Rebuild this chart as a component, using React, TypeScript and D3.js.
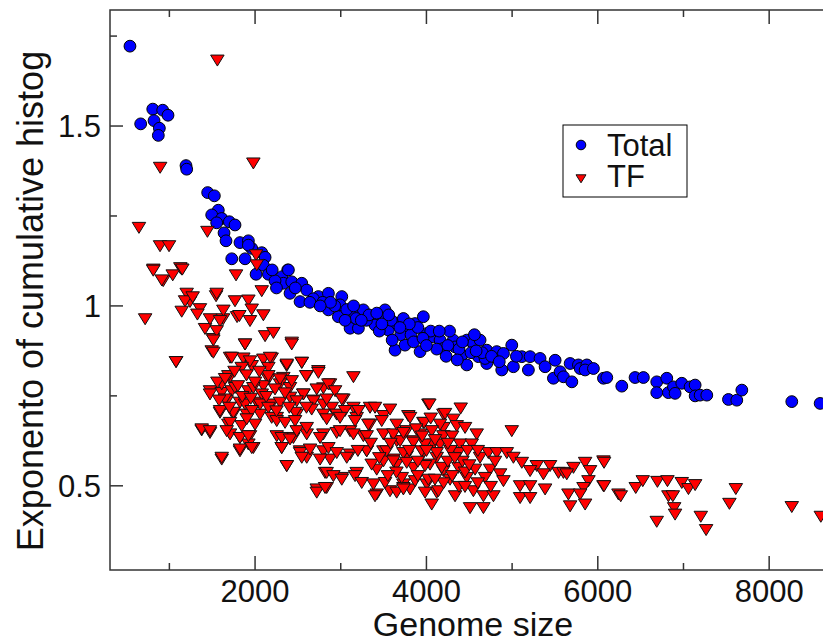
import React from "react";
import * as d3 from "d3";

const totalPoints: [number, number][] = [
  [540, 1.722], [806, 1.547], [922, 1.544], [984, 1.53], [665, 1.506], [821, 1.515], [883, 1.494], [871, 1.474],
  [1194, 1.39], [1202, 1.38], [1447, 1.315], [1525, 1.306], [1571, 1.266], [1494, 1.253], [1611, 1.243], [1552, 1.231],
  [1700, 1.234], [1766, 1.225], [1638, 1.203], [1661, 1.181], [1824, 1.176], [1922, 1.181], [1961, 1.16], [2078, 1.148],
  [2117, 1.135], [1728, 1.131], [1883, 1.131], [2097, 1.113], [2381, 1.1], [1922, 1.169], [2012, 1.088], [2156, 1.088],
  [2311, 1.081], [2389, 1.1], [2331, 1.063], [2428, 1.067], [2408, 1.035], [2545, 1.063], [2525, 1.012], [2603, 1.044],
  [2739, 1.026], [2856, 1.035], [2856, 0.989], [3012, 1.026], [2992, 1.003], [2972, 0.97], [3148, 0.984], [3264, 0.989],
  [3109, 0.938], [3206, 0.938], [3342, 0.961], [3400, 0.947], [3517, 0.989], [3498, 0.965], [3556, 0.933], [3653, 0.951],
  [3731, 0.965], [3770, 0.933], [3634, 0.877], [3750, 0.891], [3867, 0.951], [3964, 0.97], [3926, 0.873], [4004, 0.923],
  [4081, 0.914], [4159, 0.905], [4198, 0.882], [4314, 0.905], [4334, 0.886], [4412, 0.863], [4471, 0.905], [4548, 0.896],
  [4606, 0.859], [4471, 0.836], [4704, 0.877], [4704, 0.84], [4626, 0.905], [4821, 0.873], [4996, 0.891], [4899, 0.868],
  [4684, 0.854], [4879, 0.822], [5015, 0.831], [5113, 0.859], [5210, 0.859], [5190, 0.822], [5326, 0.854], [5385, 0.831],
  [5502, 0.849], [5482, 0.799], [5560, 0.817], [5599, 0.803], [5677, 0.84], [5697, 0.789], [5774, 0.836], [5794, 0.826],
  [5872, 0.836], [5852, 0.822], [5949, 0.826], [6066, 0.799], [6105, 0.801], [6280, 0.777], [6435, 0.801], [6532, 0.801],
  [6688, 0.789], [6805, 0.799], [6688, 0.759], [6824, 0.759], [6883, 0.775], [6902, 0.757], [6980, 0.785], [7077, 0.775],
  [7136, 0.78], [7136, 0.75], [7194, 0.752], [7272, 0.752], [7525, 0.74], [7622, 0.738], [7681, 0.766], [8264, 0.734],
  [8595, 0.729], [2233, 1.07], [2470, 1.05], [2680, 1.02], [2790, 1.01], [2930, 1.0], [3070, 0.99], [3180, 0.965],
  [3300, 0.96], [3450, 0.93], [3590, 0.96], [3700, 0.92], [3820, 0.92], [3900, 0.94], [4050, 0.93], [4120, 0.88],
  [4250, 0.89], [4380, 0.88], [4520, 0.87], [4650, 0.87], [4760, 0.86], [2640, 1.01], [2880, 1.01], [3330, 0.975],
  [3600, 0.905], [3850, 0.9], [4270, 0.93], [4560, 0.92], [2200, 1.1], [2250, 1.05], [3050, 0.96], [3420, 0.98],
  [3480, 0.95], [3560, 0.975], [3800, 0.95], [3960, 0.91], [4150, 0.93], [4420, 0.9], [4580, 0.875], [3150, 1.0],
  [2760, 1.0], [3240, 0.96], [3690, 0.94], [4000, 0.89], [4230, 0.86], [4360, 0.85], [4850, 0.845], [5050, 0.86]
];

const tfPoints: [number, number][] = [
  [1560, 1.685], [892, 1.387], [1980, 1.399], [645, 1.22], [1444, 1.209], [891, 1.169], [996, 1.169], [813, 1.104],
  [1144, 1.104], [2012, 1.144], [717, 0.966], [1079, 0.847], [1128, 1.108], [928, 1.072], [1241, 1.014], [1357, 0.994],
  [1416, 0.939], [1474, 0.966], [1509, 0.911], [1627, 0.966], [1790, 0.972], [1545, 1.03],
  [812, 1.101], [911, 1.074], [1039, 1.088], [1151, 1.104], [1778, 1.088], [2020, 1.116], [2078, 1.044], [1202, 1.037],
  [1183, 1.016], [1272, 1.027], [1144, 0.987], [1327, 0.979], [1552, 1.037], [1766, 1.016], [1922, 1.018], [1630, 0.99],
  [1591, 0.961], [1817, 0.975], [1961, 0.993], [1941, 0.961], [2097, 0.977], [1552, 0.933], [1513, 0.907], [2117, 0.919],
  [2214, 0.928], [1883, 0.896], [1494, 0.877], [1077, 0.847], [2428, 0.901], [1708, 0.859], [1863, 0.857], [1961, 0.836],
  [2097, 0.854], [2194, 0.857], [2155, 0.831], [2369, 0.836], [2545, 0.845], [2739, 0.822], [3148, 0.805], [1708, 0.805],
  [2330, 0.803], [2603, 0.808], [2155, 0.799], [2875, 0.785], [2797, 0.774], [1474, 0.766], [1611, 0.761], [1728, 0.766],
  [1922, 0.766], [2097, 0.78], [2292, 0.785], [2408, 0.775], [2564, 0.757], [3031, 0.743], [1669, 0.738], [1824, 0.734],
  [2020, 0.734], [2194, 0.729], [2408, 0.748], [2681, 0.74], [2797, 0.729], [2895, 0.72], [3148, 0.72], [3342, 0.72],
  [3498, 0.697], [3575, 0.715], [3789, 0.697], [4023, 0.729], [4198, 0.701], [3964, 0.678], [1591, 0.706], [1747, 0.701],
  [1903, 0.701], [2058, 0.701], [2253, 0.692], [2486, 0.701], [2797, 0.701], [2953, 0.701], [3186, 0.692], [1377, 0.657],
  [1474, 0.65], [1688, 0.673], [1844, 0.669], [2000, 0.673], [1708, 0.646], [1824, 0.636], [1941, 0.641], [1922, 0.618],
  [1980, 0.608], [2253, 0.641], [2311, 0.608], [2447, 0.636], [2603, 0.646], [2797, 0.646], [2953, 0.65], [3109, 0.655],
  [3342, 0.673], [3264, 0.641], [3498, 0.646], [3731, 0.65], [3653, 0.627], [3848, 0.627], [4081, 0.618], [4198, 0.664],
  [1824, 0.599], [1611, 0.576], [2369, 0.558], [2525, 0.599], [2797, 0.599], [2603, 0.581], [2875, 0.576], [3109, 0.59],
  [3303, 0.599], [3498, 0.599], [3614, 0.576], [3770, 0.585], [3964, 0.594], [4120, 0.581], [2817, 0.539], [3012, 0.525],
  [3186, 0.539], [3420, 0.548], [3653, 0.562], [3848, 0.553], [4042, 0.562], [4198, 0.544], [2720, 0.493], [2836, 0.497],
  [3420, 0.479], [3575, 0.488], [3809, 0.493], [4120, 0.484], [4004, 0.507], [3731, 0.507],
  [1513, 0.873], [1883, 0.896], [2428, 0.896], [1728, 0.859], [1941, 0.849], [2175, 0.859], [2370, 0.84], [2545, 0.845],
  [2739, 0.817], [2596, 0.808], [1688, 0.808], [1844, 0.831], [2155, 0.808], [2292, 0.799], [2428, 0.794], [1611, 0.785],
  [1766, 0.775], [1980, 0.775], [2078, 0.757], [2233, 0.771], [2564, 0.757], [2720, 0.771], [2856, 0.785], [2934, 0.766],
  [1474, 0.757], [1649, 0.743], [1883, 0.729], [2058, 0.729], [2292, 0.734], [2486, 0.738], [2681, 0.738], [2836, 0.743],
  [3012, 0.743], [1591, 0.711], [1747, 0.706], [1961, 0.711], [2155, 0.72], [2194, 0.692], [2467, 0.706], [2661, 0.715],
  [3050, 0.711], [3206, 0.711], [3400, 0.72], [1708, 0.678], [1903, 0.688], [2253, 0.683], [2350, 0.678], [2467, 0.683],
  [2836, 0.688], [2992, 0.692], [3167, 0.683], [3322, 0.673], [3478, 0.683], [1377, 0.66], [1474, 0.655], [1669, 0.655],
  [1824, 0.636], [1922, 0.641], [2311, 0.636], [2408, 0.632], [2486, 0.655], [2603, 0.664], [2759, 0.636], [2992, 0.655],
  [3148, 0.646], [3303, 0.641], [1824, 0.604], [1961, 0.608], [2311, 0.608], [2525, 0.594], [2642, 0.604], [2759, 0.576],
  [2856, 0.608], [2953, 0.594], [3070, 0.581], [1611, 0.581], [2370, 0.558], [2545, 0.581], [2836, 0.539], [2914, 0.53],
  [3012, 0.52], [3167, 0.53], [3245, 0.511], [3381, 0.507], [2720, 0.484], [2817, 0.497], [3400, 0.474], [3517, 0.511],
  [3653, 0.484], [3731, 0.497], [3361, 0.562], [3498, 0.571], [3614, 0.571], [3303, 0.599], [3536, 0.599], [3692, 0.627],
  [3614, 0.646], [3770, 0.655], [3653, 0.673],
  [4034, 0.729], [4400, 0.718], [3809, 0.692], [3973, 0.678], [4217, 0.703], [4314, 0.687], [4159, 0.673], [4354, 0.669],
  [4451, 0.664], [4587, 0.646], [4996, 0.655], [3731, 0.65], [3926, 0.646], [4062, 0.655], [4198, 0.641], [3848, 0.623],
  [3984, 0.618], [4159, 0.618], [4393, 0.618], [4529, 0.618], [3731, 0.594], [3945, 0.599], [4120, 0.594], [4373, 0.594],
  [4626, 0.581], [4723, 0.594], [4821, 0.594], [4938, 0.594], [5015, 0.581], [5113, 0.567], [5288, 0.558], [5443, 0.558],
  [5541, 0.539], [5716, 0.553], [5852, 0.567], [6066, 0.571], [3770, 0.567], [3984, 0.558], [4179, 0.553], [4373, 0.553],
  [4568, 0.548], [4743, 0.548], [4860, 0.535], [5210, 0.544], [5365, 0.535], [5599, 0.539], [5910, 0.544], [3712, 0.525],
  [3867, 0.516], [4023, 0.52], [4276, 0.52], [4471, 0.525], [4684, 0.525], [4899, 0.516], [5093, 0.502], [5210, 0.502],
  [5385, 0.493], [5891, 0.516], [6066, 0.502], [5833, 0.497], [3731, 0.493], [3984, 0.484], [4140, 0.488], [4334, 0.474],
  [4548, 0.488], [4665, 0.474], [4782, 0.474], [5093, 0.469], [5210, 0.469], [5657, 0.479], [5794, 0.479], [4062, 0.451],
  [4509, 0.441], [4665, 0.441], [5677, 0.446], [5852, 0.451], [6241, 0.479], [5638, 0.535],
  [6073, 0.567], [6073, 0.502], [6268, 0.474], [6443, 0.497], [6525, 0.516], [6696, 0.514], [6813, 0.516], [6980, 0.511],
  [7058, 0.494], [7136, 0.505], [6824, 0.474], [6876, 0.474], [6891, 0.441], [6902, 0.423], [6688, 0.403], [7202, 0.417],
  [7264, 0.38], [7536, 0.453], [7611, 0.494], [8264, 0.444], [8603, 0.417],
  [4280, 0.6], [4420, 0.57], [4480, 0.6], [4250, 0.57], [4100, 0.63], [4300, 0.64], [4450, 0.54], [4600, 0.6],
  [3900, 0.57], [4200, 0.51], [4380, 0.5], [3880, 0.66], [4050, 0.69], [4600, 0.51], [4800, 0.57], [4750, 0.5],
  [1560, 0.79], [1650, 0.8], [1760, 0.82], [1800, 0.78], [1900, 0.81], [2000, 0.79], [2050, 0.82], [1580, 0.74],
  [1700, 0.72], [1850, 0.75], [1950, 0.745], [2130, 0.75], [2350, 0.76], [2600, 0.72], [2250, 0.71], [2400, 0.72],
  [3580, 0.62], [3800, 0.6], [4000, 0.6], [4330, 0.58], [4500, 0.56], [3650, 0.54], [3900, 0.53], [4100, 0.52],
  [4300, 0.53], [3550, 0.53], [4450, 0.5], [3950, 0.64], [4250, 0.62], [3350, 0.62], [3200, 0.6], [3450, 0.58]
];

const xTickLabels = [2000, 4000, 6000, 8000];
const xMinorTicks = [1000, 3000, 5000, 7000];
const yTickLabels = [0.5, 1, 1.5];
const yMinorTicks = [0.75, 1.25, 1.75];
const legendLabels = ["Total", "TF"];

const W = 823;
const H = 638;
const L = 110, R = 836, T = 10, B = 570;

export default function App() {
  const x = d3.scaleLinear().domain([307, 8780]).range([L, R]);
  const y = d3.scaleLinear().domain([0.266, 1.8225]).range([B, T]);
  const frame = "#333";
  const font = "'Liberation Sans', Arial, sans-serif";
  const tri = (cx: number, cy: number, w: number, h: number) =>
    `M${cx - w / 2},${cy - h * 0.4}L${cx + w / 2},${cy - h * 0.4}L${cx},${cy + h * 0.6}Z`;

  return (
    <svg width={W} height={H} style={{ position: "absolute", left: 0, top: 0, background: "#fff" }}>
      <defs>
        <clipPath id="plotclip">
          <rect x={L} y={T} width={R - L} height={B - T} />
        </clipPath>
      </defs>
      <rect x={0} y={0} width={W} height={H} fill="#fff" />
      <g clipPath="url(#plotclip)">
        {totalPoints.map((d, i) => (
          <circle key={"t" + i} cx={x(d[0])} cy={y(d[1])} r={5.9} fill="#0000ff" stroke="#000" strokeWidth={1} />
        ))}
        {tfPoints.map((d, i) => (
          <path key={"f" + i} d={tri(x(d[0]), y(d[1]), 13.5, 11)} fill="#ff0000" stroke="#111" strokeWidth={1} />
        ))}
      </g>
      <rect x={L} y={T} width={R - L} height={B - T} fill="none" stroke={frame} strokeWidth={1.5} />
      {xTickLabels.map((v) => (
        <g key={"xt" + v}>
          <line x1={x(v)} x2={x(v)} y1={B} y2={B - 14} stroke={frame} strokeWidth={1.5} />
          <line x1={x(v)} x2={x(v)} y1={T} y2={T + 14} stroke={frame} strokeWidth={1.5} />
          <text x={x(v)} y={602} textAnchor="middle" fontFamily={font} fontSize={31} fill="#111">
            {v}
          </text>
        </g>
      ))}
      {xMinorTicks.map((v) => (
        <g key={"xm" + v}>
          <line x1={x(v)} x2={x(v)} y1={B} y2={B - 7} stroke={frame} strokeWidth={1.5} />
          <line x1={x(v)} x2={x(v)} y1={T} y2={T + 7} stroke={frame} strokeWidth={1.5} />
        </g>
      ))}
      {yTickLabels.map((v) => (
        <g key={"yt" + v}>
          <line x1={L} x2={L + 13} y1={y(v)} y2={y(v)} stroke={frame} strokeWidth={1.5} />
          <line x1={R} x2={R - 13} y1={y(v)} y2={y(v)} stroke={frame} strokeWidth={1.5} />
          <text x={101} y={y(v) + 11} textAnchor="end" fontFamily={font} fontSize={31} fill="#111">
            {v}
          </text>
        </g>
      ))}
      {yMinorTicks.map((v) => (
        <g key={"ym" + v}>
          <line x1={L} x2={L + 7} y1={y(v)} y2={y(v)} stroke={frame} strokeWidth={1.5} />
          <line x1={R} x2={R - 7} y1={y(v)} y2={y(v)} stroke={frame} strokeWidth={1.5} />
        </g>
      ))}
      <text x={(L + R) / 2} y={636} textAnchor="middle" fontFamily={font} fontSize={34} fill="#111">
        Genome size
      </text>
      <text
        transform={`translate(43,${301}) rotate(-90)`}
        textAnchor="middle"
        fontFamily={font}
        fontSize={36}
        fill="#111"
      >
        Exponento of cumulative histog
      </text>
      <rect x={563} y={125} width={124} height={72} fill="#fff" stroke="#000" strokeWidth={1} />
      <circle cx={581} cy={145} r={4.8} fill="#0000ff" stroke="#000" strokeWidth={1} />
      <path d={tri(581, 178, 10, 8)} fill="#ff0000" stroke="#111" strokeWidth={1} />
      <text x={607} y={156} fontFamily={font} fontSize={31} fill="#111">
        {legendLabels[0]}
      </text>
      <text x={607} y={187} fontFamily={font} fontSize={31} fill="#111">
        {legendLabels[1]}
      </text>
    </svg>
  );
}
